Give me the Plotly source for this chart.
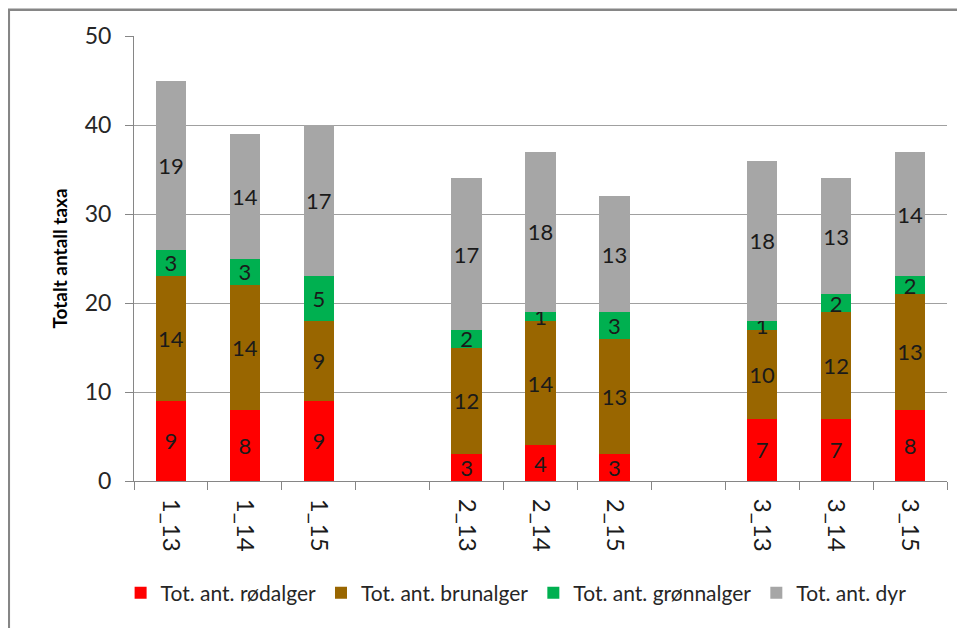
import plotly.graph_objects as go

# categories, with two blank slots acting as group gaps
stations = ["1_13", "1_14", "1_15", " ", "2_13", "2_14", "2_15", "  ", "3_13", "3_14", "3_15"]

rodalger = [9, 8, 9, None, 3, 4, 3, None, 7, 7, 8]
brunalger = [14, 14, 9, None, 12, 14, 13, None, 10, 12, 13]
gronnalger = [3, 3, 5, None, 2, 1, 3, None, 1, 2, 2]
dyr = [19, 14, 17, None, 17, 18, 13, None, 18, 13, 14]

series = [
    ("Tot. ant. rødalger", rodalger, "#FF0000"),
    ("Tot. ant. brunalger", brunalger, "#996600"),
    ("Tot. ant. grønnalger", gronnalger, "#00B050"),
    ("Tot. ant. dyr", dyr, "#A6A6A6"),
]

FONT = "Lato"

fig = go.Figure()
for name, vals, color in series:
    fig.add_trace(
        go.Bar(
            x=stations,
            y=vals,
            name=name,
            marker_color=color,
            marker_line_width=0,
            text=[str(v) if v is not None else "" for v in vals],
            textposition="inside",
            insidetextanchor="middle",
            textangle=0,
            constraintext="none",
            textfont=dict(color="#1a1a1a", size=22, family=FONT),
        )
    )

# the page body adds 8px on the left/top, margins allow for that
fig.update_layout(
    barmode="stack",
    bargap=0.59,
    width=965,
    height=628,
    plot_bgcolor="white",
    paper_bgcolor="white",
    font=dict(family=FONT, color="#262626"),
    margin=dict(l=126, r=26, t=28, b=155),
    uniformtext=dict(minsize=22, mode="show"),
    showlegend=True,
    legend=dict(
        orientation="h",
        x=0.47,
        xanchor="center",
        y=-0.252,
        yanchor="middle",
        font=dict(size=21, family=FONT, color="#262626"),
        traceorder="normal",
        itemwidth=30,
    ),
    xaxis=dict(
        type="category",
        tickangle=90,
        tickson="boundaries",
        ticks="outside",
        ticklen=8,
        tickcolor="#868686",
        ticklabelstandoff=12,
        showline=True,
        linecolor="#868686",
        linewidth=1,
        showgrid=False,
        automargin=False,
        tickfont=dict(size=24, family=FONT, color="#1a1a1a"),
    ),
    yaxis=dict(
        range=[0, 50],
        dtick=10,
        ticks="outside",
        ticklen=8,
        tickcolor="#868686",
        ticklabelstandoff=9,
        showline=True,
        linecolor="#868686",
        showgrid=True,
        gridcolor="#A0A0A0",
        zeroline=False,
        automargin=False,
        tickfont=dict(size=23, family=FONT, color="#262626"),
        title=dict(
            text="<b>Totalt antall taxa</b>",
            font=dict(size=19, family=FONT, color="#000000"),
            standoff=12,
        ),
    ),
)

# outer chart frame (only top/left edges visible in the crop)
fig.add_shape(
    type="rect",
    xref="paper",
    yref="paper",
    x0=-0.154,
    x1=1.2,
    y0=-0.6,
    y1=1.059,
    line=dict(color="#868686", width=2.5),
    fillcolor="rgba(0,0,0,0)",
    layer="below",
)

fig.write_html("out.html")
